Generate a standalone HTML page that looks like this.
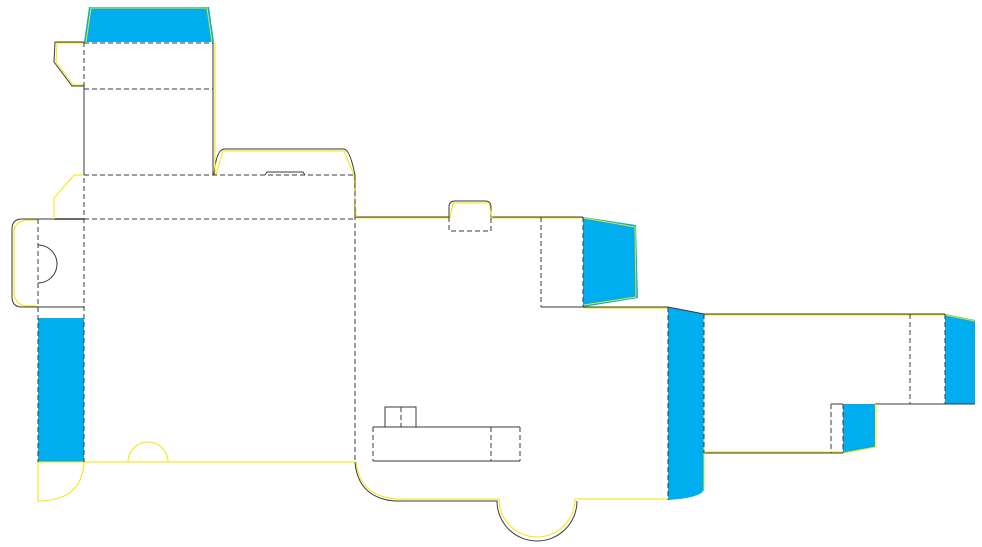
<!DOCTYPE html>
<html><head><meta charset="utf-8"><style>
html,body{margin:0;padding:0;background:#fff;}
svg{display:block}
</style></head><body>
<svg width="982" height="547" viewBox="0 0 982 547" xmlns="http://www.w3.org/2000/svg">
<g fill="#00aeef" stroke="none">
  <polygon points="84,42 89,7 209,7 214,42"/>
  <rect x="38" y="318" width="46" height="144"/>
  <polygon points="583,217 636,225 638,298 583,307"/>
  <path d="M668,307 L704,314 L704,490 Q700,498 668,500 Z"/>
  <polygon points="945,314 975,320 975,404 945,404"/>
  <polygon points="843,404 875,404 875,447 843,453"/>
</g>
<g fill="none" stroke="#3a3a3a" stroke-width="1">
  <path d="M84,42 L55,42 L54,62 L72,86 L84,86 L84,175"/>
  <path d="M213,42 L213,175"/>
  <path d="M214,175 Q216,150 224,149 L344,149 Q350,150 355,175 L355,217"/>
  <path d="M265,175 L267,172 L303,172 L305,175"/>
  <path d="M54,219 L84,219" stroke-width="1.6"/>
  <path d="M84,219 L22,219 Q12,219 12,229 L12,297 Q12,307 22,307 L84,307"/>
  <path d="M38,245 A19,19 0 0 1 38,283"/>
  <path d="M355,217 L449,217 L449,207 Q449,201 455,201 L485,201 Q491,201 491,207 L491,217 L583,217"/>
  <path d="M541,307 L583,307"/>
  <path d="M583,307 L668,307 L704,314 L945,314"/>
  <path d="M704,453 L843,453"/>
  <path d="M831,404 L843,404"/>
  <path d="M355,462 Q358,498 395,501 L497,501 A40,40 0 0 0 577,501"/>
  <path d="M373,427 L520,427 M373,461 L520,461"/>
  <path d="M385,427 L385,407 L416,407 L416,427"/>
  <path d="M875,404 L975,404"/>
</g>
<g fill="none" stroke="#f5e400" stroke-width="1">
  <path d="M86,42 L91,8 L207,8 L212,42"/>
  <path d="M85,43 L57,43 L56,62 L73,85 L85,85"/>
  <path d="M215,42 L215,175"/>
  <path d="M216,175 L223,151 L344,151 L354,175 L356,217"/>
  <path d="M84,175 L74,175 L54,198 L54,219"/>
  <path d="M38,220 L26,220 Q14,222 14,232 L14,294 Q16,306 28,306 L38,306"/>
  <path d="M38,462 L355,462"/>
  <path d="M128,462 A20,20 0 0 1 168,462"/>
  <path d="M38,462 L38,501 L40,501 Q82,500 84,462"/>
  <path d="M356,462 Q360,497 397,499 L499,499 A38,38 0 0 0 575,499 L668,499"/>
  <path d="M356,218 L450,218 L453,203 L489,203 L492,218 L583,218"/>
  <path d="M584,218 L635,227 L636,297 L584,305"/>
  <path d="M583,308 L668,308"/>
  <path d="M704,315 L945,315 L975,321"/>
  <path d="M706,452 L843,452"/>
  <path d="M843,453 L876,447 L876,404"/>
  <path d="M704,315 L704,490"/>
</g>
<g fill="none" stroke="#3a3a3a" stroke-width="1" stroke-dasharray="5,3">
  <path d="M84,43 L213,43 M84,89 L213,89"/>
  <path d="M84,175 L355,175 M84,219 L355,219"/>
  <path d="M84,42 L84,462 M355,175 L355,462"/>
  <path d="M38,219 L38,462"/>
  <path d="M449,217 L449,231 L491,231 L491,217"/>
  <path d="M541,217 L541,307"/>
  <path d="M583,217 L583,307"/>
  <path d="M668,307 L668,500 M704,314 L704,453"/>
  <path d="M910,314 L910,404 M945,314 L945,404"/>
  <path d="M831,404 L831,453 M843,404 L843,453"/>
  <path d="M373,427 L373,461 M520,427 L520,461 M491,427 L491,461"/>
  <path d="M401,407 L401,427"/>
</g>
</svg>
</body></html>
